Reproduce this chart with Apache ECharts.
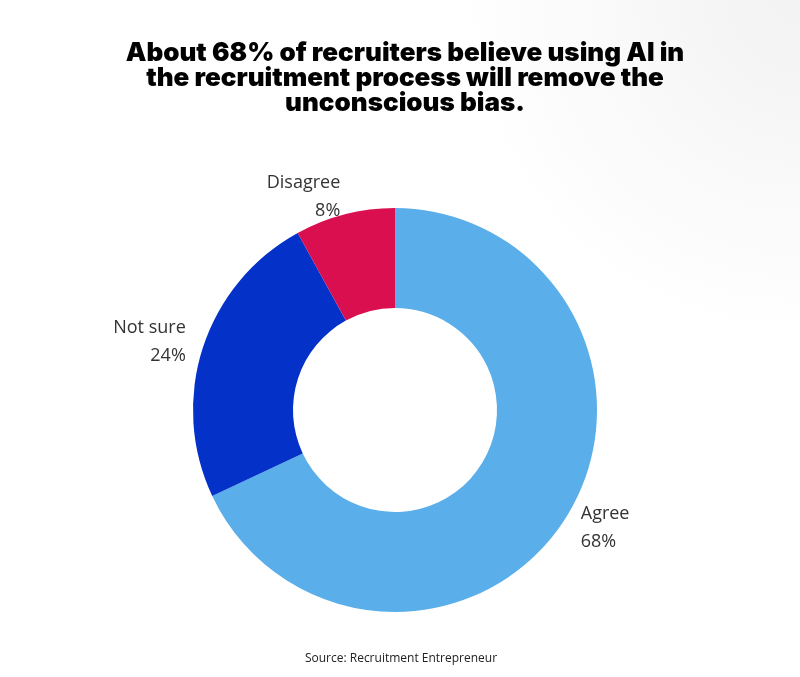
<!DOCTYPE html>
<html><head><meta charset="utf-8">
<script src="https://cdn.jsdelivr.net/npm/echarts@6/dist/echarts.min.js"></script>
<style>html,body{margin:0;padding:0;background:#fff}#c{width:800px;height:677px}</style>
</head><body><div id="c"></div>
<script>
const categories = ["Agree", "Not sure", "Disagree"];
const values = [68, 24, 8];
const colors = ["#5AAEE9", "#0432C9", "#D90F50"];
const chart = echarts.init(document.getElementById('c'));
chart.setOption({
  backgroundColor: {type:'radial', x:1, y:0, r:0.5, colorStops:[{offset:0,color:'#f2f2f2'},{offset:1,color:'#ffffff'}]},
  title: [{
    text: "About 68% of recruiters believe using AI in\nthe recruitment process will remove the\nunconscious bias.",
    left: 400, top: 36, textAlign: 'center',
    textStyle: {fontFamily: 'Inter', fontWeight: 900, fontSize: 26, lineHeight: 25, color: '#000'}
  }, {
    text: "Source: Recruitment Entrepreneur",
    left: 396, top: 648, textAlign: 'center',
    textStyle: {fontFamily: 'Open Sans', fontWeight: 'normal', fontSize: 12, color: '#222'}
  }],
  series: [{
    type: 'pie', center: [395, 410], radius: [102, 202], startAngle: 90, clockwise: true,
    data: categories.map((c, i) => ({name: c, value: values[i], itemStyle: {color: colors[i]}})),
    label: {show: true, position: 'outside', formatter: '{b}\n{c}%', fontFamily: 'Open Sans', fontSize: 18, lineHeight: 28, color: '#333', distanceToLabelLine: 0},
    labelLine: {show: false, length: 18, length2: 0},
    emphasis: {disabled: true}
  }]
});
</script></body></html>
